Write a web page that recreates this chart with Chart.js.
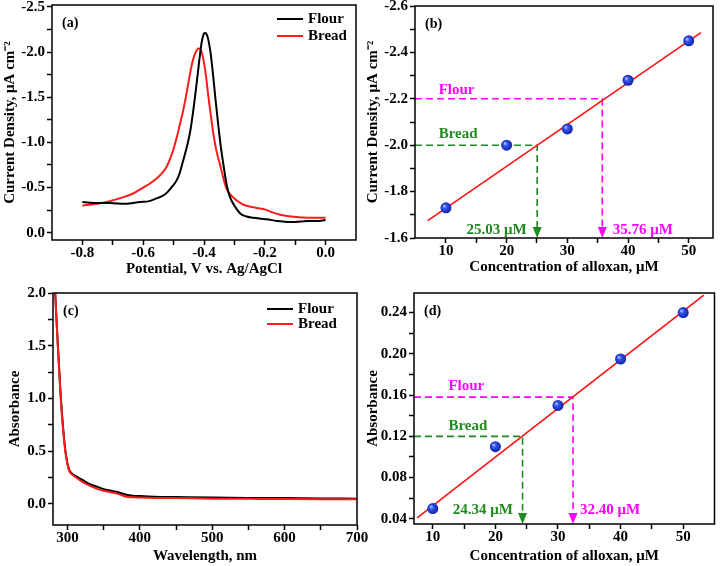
<!DOCTYPE html>
<html>
<head>
<meta charset="utf-8">
<script src="https://cdn.jsdelivr.net/npm/chart.js@4/dist/chart.umd.min.js"></script>
<style>
body { margin: 0; background: #fff; }
#wrap { position: relative; width: 720px; height: 566px; }
canvas { position: absolute; left: 0; top: 0; }
</style>
</head>
<body>
<div id="wrap">
<canvas id="chartA" width="720" height="566"></canvas>
<canvas id="chartB" width="720" height="566"></canvas>
<canvas id="chartC" width="720" height="566"></canvas>
<canvas id="chartD" width="720" height="566"></canvas>
</div>
<script>
// ---- (a) DPV curves
const potFlour = [-0.80,-0.75,-0.71,-0.66,-0.61,-0.58,-0.556,-0.535,-0.52,-0.505,-0.49,-0.48,-0.47,-0.458,-0.446,-0.435,-0.424,-0.415,-0.408,-0.402,-0.397,-0.392,-0.386,-0.378,-0.37,-0.362,-0.353,-0.345,-0.336,-0.328,-0.32,-0.31,-0.30,-0.28,-0.26,-0.238,-0.21,-0.194,-0.16,-0.128,-0.10,-0.06,-0.03,0.0];
const curFlour = [-0.34,-0.33,-0.33,-0.32,-0.34,-0.35,-0.38,-0.41,-0.45,-0.51,-0.58,-0.66,-0.78,-0.93,-1.11,-1.36,-1.66,-1.92,-2.10,-2.19,-2.21,-2.20,-2.14,-1.98,-1.74,-1.47,-1.19,-0.96,-0.75,-0.58,-0.45,-0.36,-0.30,-0.21,-0.18,-0.165,-0.155,-0.15,-0.13,-0.12,-0.12,-0.13,-0.13,-0.14];
const potBread = [-0.80,-0.75,-0.71,-0.66,-0.63,-0.60,-0.58,-0.556,-0.535,-0.52,-0.50,-0.49,-0.48,-0.468,-0.457,-0.448,-0.44,-0.432,-0.424,-0.418,-0.412,-0.406,-0.40,-0.393,-0.386,-0.378,-0.37,-0.36,-0.347,-0.336,-0.326,-0.315,-0.30,-0.285,-0.27,-0.25,-0.227,-0.21,-0.194,-0.17,-0.15,-0.125,-0.104,-0.08,-0.05,-0.02,0.0];
const curBread = [-0.30,-0.32,-0.35,-0.40,-0.44,-0.50,-0.54,-0.60,-0.67,-0.75,-0.93,-1.05,-1.19,-1.36,-1.55,-1.72,-1.86,-1.96,-2.02,-2.04,-2.03,-1.98,-1.88,-1.72,-1.52,-1.31,-1.11,-0.92,-0.75,-0.60,-0.49,-0.43,-0.38,-0.34,-0.31,-0.29,-0.275,-0.265,-0.25,-0.22,-0.20,-0.185,-0.176,-0.17,-0.165,-0.165,-0.165];
const aMajorX = [-0.8,-0.6,-0.4,-0.2,0.0];
const aMinorX = [-0.7,-0.5,-0.3,-0.1];
const aMajorY = [-2.5,-2.0,-1.5,-1.0,-0.5,0.0];
const aMinorY = [-2.25,-1.75,-1.25,-0.75,-0.25];

// ---- (b) current calibration
const concB = [10,20,30,40,50];
const currentB = [-1.73,-2.00,-2.07,-2.28,-2.45];
const fitXB = [7,52];
const fitYB = [-1.675,-2.485];
const flourB = { conc: 35.76, val: -2.2 };
const breadB = { conc: 25.03, val: -2.0 };
const bMajorX = [10,20,30,40,50];
const bMinorX = [15,25,35,45];
const bMajorY = [-2.6,-2.4,-2.2,-2.0,-1.8,-1.6];
const bMinorY = [-2.5,-2.3,-2.1,-1.9,-1.7];

// ---- (c) UV-vis spectra
const waveFlour = [283,286,290,294,298,302,306,310,320,330,340,350,360,370,380,390,400,420,450,500,550,600,650,700];
const absFlour = [2.0,1.6,1.1,0.72,0.46,0.33,0.29,0.27,0.23,0.19,0.165,0.14,0.125,0.11,0.09,0.078,0.074,0.068,0.065,0.06,0.057,0.055,0.052,0.05];
const waveBread = [283,286,290,294,298,302,306,310,320,330,340,350,360,370,380,390,400,420,450,500,550,600,650,700];
const absBread = [2.0,1.58,1.08,0.70,0.45,0.32,0.28,0.26,0.21,0.175,0.145,0.125,0.11,0.095,0.07,0.062,0.06,0.057,0.055,0.05,0.048,0.046,0.045,0.045];
const cMajorX = [300,400,500,600,700];
const cMinorX = [350,450,550,650];
const cMajorY = [0.0,0.5,1.0,1.5,2.0];
const cMinorY = [0.25,0.75,1.25,1.75];

// ---- (d) absorbance calibration
const concD = [10,20,30,40,50];
const absD = [0.05,0.11,0.15,0.195,0.24];
const fitXD = [7.5,53.3];
const fitYD = [0.041,0.257];
const flourD = { conc: 32.40, val: 0.158 };
const breadD = { conc: 24.34, val: 0.12 };
const dMajorX = [10,20,30,40,50];
const dMinorX = [15,25,35,45];
const dMajorY = [0.04,0.08,0.12,0.16,0.20,0.24];
const dMinorY = [0.06,0.10,0.14,0.18,0.22];

const MAGENTA = '#ff00ff';
const GREEN = '#1f8a1f';

Chart.defaults.font.family = "'Liberation Serif', 'Times New Roman', serif";
Chart.defaults.font.weight = 'bold';
Chart.defaults.font.size = 15;
Chart.defaults.color = '#000';

const xy = (xs, ys) => xs.map((v, i) => ({ x: v, y: ys[i] }));

function makeScale(o) {
  const all = o.major.concat(o.minor).sort((a, b) => a - b);
  const left = o.pos === 'left';
  return {
    type: 'linear', position: o.pos, min: o.min, max: o.max, reverse: !!o.reverse,
    border: { display: false },
    grid: { drawOnChartArea: false, drawTicks: true, tickLength: 5, tickWidth: 1.5, tickColor: '#000' },
    ticks: {
      autoSkip: false, maxRotation: 0, padding: left ? 2 : -1, color: '#000',
      callback: v => o.major.some(m => Math.abs(m - v) < 1e-9) ? v.toFixed(o.digits) : ''
    },
    afterBuildTicks: s => { s.ticks = all.map(v => ({ value: v })); },
    afterFit: s => {
      if (left) s.width = o.size; else s.height = o.size;
      s.paddingLeft = s.paddingRight = s.paddingTop = s.paddingBottom = 0;
    },
    title: { display: true, text: o.title, color: '#000', font: { size: 15, weight: 'bold' }, padding: o.titlePad }
  };
}

// blue "ball" markers
function ballColor(c) {
  const chart = c.chart;
  if (!chart.chartArea || !c.parsed) return '#1f3ee0';
  const px = chart.scales.x.getPixelForValue(c.parsed.x);
  const py = chart.scales.y.getPixelForValue(c.parsed.y);
  const g = chart.ctx.createRadialGradient(px - 2, py - 2, 0, px, py, 6);
  g.addColorStop(0, '#c8d4ff');
  g.addColorStop(0.35, '#3555f0');
  g.addColorStop(1, '#0a1c9a');
  return g;
}

const decor = {
  id: 'decor',
  beforeDatasetsDraw(chart, args, o) {
    const { ctx, chartArea: a, scales: { x, y } } = chart;
    ctx.save();
    (o.guides || []).forEach(g => {
      const px = x.getPixelForValue(g.x), py = y.getPixelForValue(g.y);
      ctx.strokeStyle = g.color; ctx.lineWidth = 1.6; ctx.setLineDash([7, 4]);
      ctx.beginPath(); ctx.moveTo(a.left, py); ctx.lineTo(px, py); ctx.lineTo(px, a.bottom - 9); ctx.stroke();
      ctx.setLineDash([]); ctx.fillStyle = g.color;
      ctx.beginPath(); ctx.moveTo(px - 4.5, a.bottom - 11); ctx.lineTo(px + 4.5, a.bottom - 11); ctx.lineTo(px, a.bottom); ctx.closePath(); ctx.fill();
    });
    ctx.restore();
  },
  afterDraw(chart, args, o) {
    const { ctx, chartArea: a, scales: { x, y } } = chart;
    ctx.save();
    ctx.strokeStyle = '#000'; ctx.lineWidth = 1.5;
    ctx.strokeRect(a.left, a.top, a.right - a.left, a.bottom - a.top);
    ctx.font = "bold 14px 'Liberation Serif', serif";
    ctx.textBaseline = 'middle';
    ctx.fillStyle = '#000'; ctx.textAlign = 'left';
    ctx.fillText(o.tag, a.left + 10, a.top + 18);
    ctx.font = "bold 15px 'Liberation Serif', serif";
    (o.notes || []).forEach(n => {
      ctx.fillStyle = n.color; ctx.textAlign = 'left';
      ctx.fillText(n.text, x.getPixelForValue(n.x), y.getPixelForValue(n.y));
    });
    if (o.legend) {
      const L = o.legend;
      chart.data.datasets.filter(d => d.inLegend).forEach((d, i) => {
        const ly = a.top + L.top + i * L.gap;
        const lx = a.right - L.right;
        ctx.strokeStyle = d.borderColor; ctx.lineWidth = 2;
        ctx.beginPath(); ctx.moveTo(lx, ly); ctx.lineTo(lx + 26, ly); ctx.stroke();
        ctx.fillStyle = '#000';
        ctx.fillText(d.label, lx + 31, ly);
      });
    }
    ctx.restore();
  }
};
Chart.register(decor);

function base(pad, scales, deco) {
  return {
    responsive: false, maintainAspectRatio: false, animation: false,
    layout: { padding: pad },
    plugins: { legend: { display: false }, tooltip: { enabled: false }, decor: deco },
    scales: scales
  };
}

function curve(label, xs, ys, color, order) {
  return { label, data: xy(xs, ys), showLine: true, borderColor: color, borderWidth: 2,
    pointRadius: 0, cubicInterpolationMode: 'monotone', inLegend: true, order };
}

function fitLine(xs, ys) {
  return { label: 'fit', data: xy(xs, ys), showLine: true, borderColor: '#ff1010', borderWidth: 1.6, pointRadius: 0, order: 2 };
}

function balls(xs, ys) {
  return { label: 'data', data: xy(xs, ys), showLine: false, pointRadius: 5.5, pointBorderWidth: 0,
    backgroundColor: ballColor, borderColor: 'rgba(0,0,0,0)', order: 1 };
}

// (a)
new Chart(document.getElementById('chartA'), {
  type: 'scatter',
  data: { datasets: [curve('Flour', potFlour, curFlour, '#000', 1), curve('Bread', potBread, curBread, '#ff1a1a', 2)] },
  options: base({ left: 0, top: 5, right: 364, bottom: 284 }, {
    x: makeScale({ pos: 'bottom', min: -0.9, max: 0.1, major: aMajorX, minor: aMinorX, digits: 1, size: 42,
      title: 'Potential, V vs. Ag/AgCl', titlePad: { top: 0, bottom: 4 } }),
    y: makeScale({ pos: 'left', min: -2.52, max: 0.08, reverse: true, major: aMajorY, minor: aMinorY, digits: 1, size: 52,
      title: 'Current Density, \u03bcA cm\u207b\u00b2', titlePad: { top: 1, bottom: 0 } })
  }, { tag: '(a)', legend: { right: 79, top: 14, gap: 17 } })
});

// (b)
new Chart(document.getElementById('chartB'), {
  type: 'scatter',
  data: { datasets: [balls(concB, currentB), fitLine(fitXB, fitYB)] },
  options: base({ left: 363, top: 6, right: 7, bottom: 286 }, {
    x: makeScale({ pos: 'bottom', min: 4.9, max: 54, major: bMajorX, minor: bMinorX, digits: 0, size: 42,
      title: 'Concentration of alloxan, \u03bcM', titlePad: { top: 0, bottom: 4 } }),
    y: makeScale({ pos: 'left', min: -2.6, max: -1.6, reverse: true, major: bMajorY, minor: bMinorY, digits: 1, size: 52,
      title: 'Current Density, \u03bcA cm\u207b\u00b2', titlePad: { top: 1, bottom: 0 } })
  }, {
    tag: '(b)',
    guides: [{ x: flourB.conc, y: flourB.val, color: MAGENTA }, { x: breadB.conc, y: breadB.val, color: GREEN }],
    notes: [
      { text: 'Flour', x: 8.8, y: -2.238, color: MAGENTA },
      { text: 'Bread', x: 8.8, y: -2.046, color: GREEN },
      { text: breadB.conc.toFixed(2) + ' \u03bcM', x: 13.4, y: -1.636, color: GREEN },
      { text: flourB.conc.toFixed(2) + ' \u03bcM', x: 37.5, y: -1.636, color: MAGENTA }
    ]
  })
});

// (c)
new Chart(document.getElementById('chartC'), {
  type: 'scatter',
  data: { datasets: [curve('Flour', waveFlour, absFlour, '#000', 2), curve('Bread', waveBread, absBread, '#ff1a1a', 1)] },
  options: base({ left: 1, top: 293, right: 363, bottom: 0 }, {
    x: makeScale({ pos: 'bottom', min: 280, max: 700, major: cMajorX, minor: cMinorX, digits: 0, size: 41,
      title: 'Wavelength, nm', titlePad: { top: 0, bottom: 1 } }),
    y: makeScale({ pos: 'left', min: -0.2, max: 2.0, major: cMajorY, minor: cMinorY, digits: 1, size: 52,
      title: 'Absorbance', titlePad: { top: 5, bottom: 0 } })
  }, { tag: '(c)', legend: { right: 90, top: 16, gap: 15 } })
});

// (d)
new Chart(document.getElementById('chartD'), {
  type: 'scatter',
  data: { datasets: [balls(concD, absD), fitLine(fitXD, fitYD)] },
  options: base({ left: 362, top: 293, right: 2, bottom: 0 }, {
    x: makeScale({ pos: 'bottom', min: 7, max: 55, major: dMajorX, minor: dMinorX, digits: 0, size: 42,
      title: 'Concentration of alloxan, \u03bcM', titlePad: { top: 0, bottom: 1 } }),
    y: makeScale({ pos: 'left', min: 0.035, max: 0.259, major: dMajorY, minor: dMinorY, digits: 2, size: 52,
      title: 'Absorbance', titlePad: { top: 2, bottom: 0 } })
  }, {
    tag: '(d)',
    guides: [{ x: flourD.conc, y: flourD.val, color: MAGENTA }, { x: breadD.conc, y: breadD.val, color: GREEN }],
    notes: [
      { text: 'Flour', x: 12.5, y: 0.169, color: MAGENTA },
      { text: 'Bread', x: 12.5, y: 0.130, color: GREEN },
      { text: breadD.conc.toFixed(2) + ' \u03bcM', x: 13.2, y: 0.048, color: GREEN },
      { text: flourD.conc.toFixed(2) + ' \u03bcM', x: 33.5, y: 0.048, color: MAGENTA }
    ]
  })
});
</script>
</body>
</html>
